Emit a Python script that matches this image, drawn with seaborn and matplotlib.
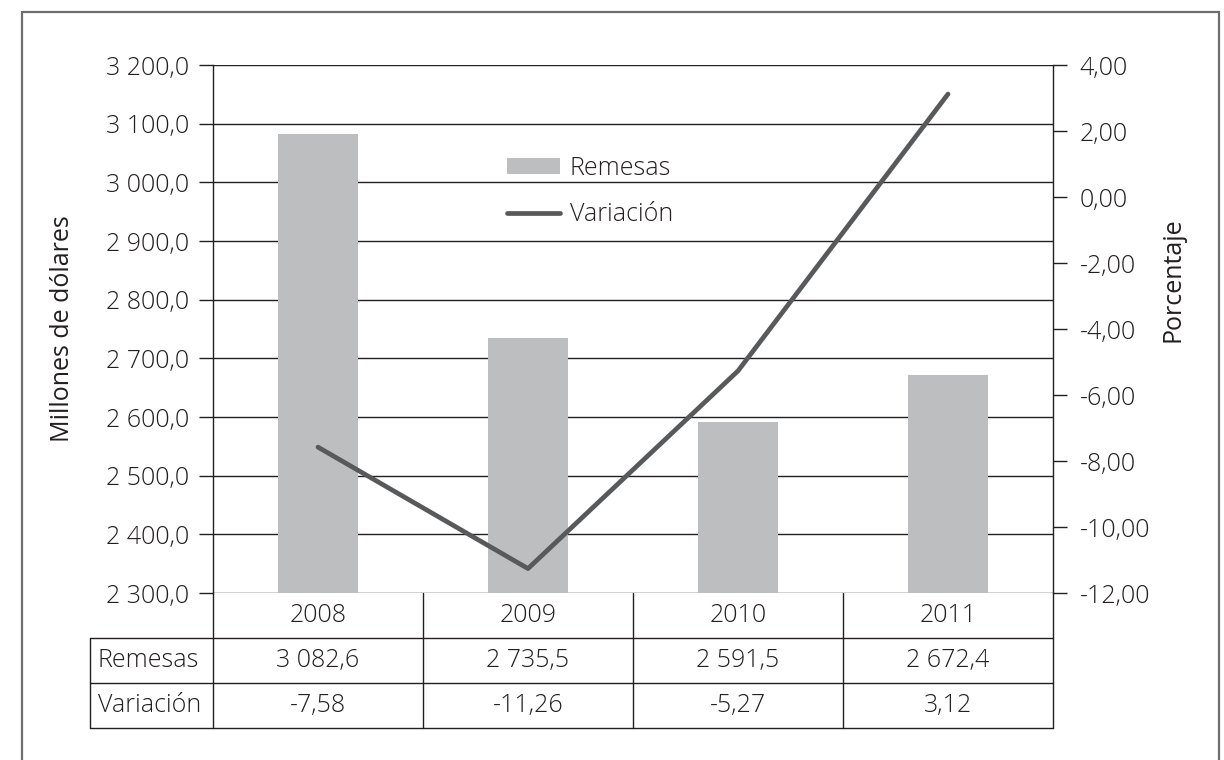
import matplotlib
matplotlib.use("Agg")
import matplotlib.pyplot as plt
from matplotlib.lines import Line2D
from matplotlib.patches import Patch, Rectangle
from matplotlib.ticker import FuncFormatter, MultipleLocator
import numpy as np
import seaborn as sns

# --------------------------------------------------------------------------- #
# Data
# --------------------------------------------------------------------------- #
years = ["2008", "2009", "2010", "2011"]
remesas = [3082.6, 2735.5, 2591.5, 2672.4]
variacion = [-7.58, -11.26, -5.27, 3.12]
row_labels = ["Remesas", "Variación"]

BAR = "#bcbec0"
LINE = "#58595b"
INK = "#231f20"
FRAME = "#6d6e71"
FS = 18


def fmt(v, d):
    return f"{v:,.{d}f}".replace(",", " ").replace(".", ",")


sns.set_theme(style="white")
plt.rcParams["font.family"] = ["Open Sans", "DejaVu Sans"]
plt.rcParams["font.weight"] = "light"
plt.rcParams["text.color"] = INK

W, H = 1224, 760
fig = plt.figure(figsize=(W / 100, H / 100), dpi=100)
fig.patch.set_facecolor("white")

# axes box in pixels: x 213..1053, y 65..593
L, R, T, B = 213, 1053, 65, 593
ax = fig.add_axes([L / W, 1 - B / H, (R - L) / W, (B - T) / H])

sns.barplot(x=years, y=remesas, ax=ax, color=BAR, saturation=1, width=0.385,
            edgecolor="none", linewidth=0, zorder=2)
ax.set_ylim(2300, 3200)
ax.set_xlim(-0.5, 3.5)
ax.yaxis.set_major_locator(MultipleLocator(100))
ax.yaxis.set_major_formatter(FuncFormatter(lambda v, _: fmt(v, 1)))
ax.set_axisbelow(True)
ax.grid(axis="y", color=INK, linewidth=1.0)
ax.grid(axis="x", visible=False)
ax.tick_params(axis="y", direction="out", length=10, width=1.0, color=INK,
               labelsize=FS, labelcolor=INK, pad=7, left=True)
ax.tick_params(axis="x", bottom=False, labelbottom=False)
ax.set_xlabel("")
ax.set_ylabel("Millones de dólares", fontsize=FS, color=INK)
ax.yaxis.set_label_coords((75 - L) / (R - L), 0.5)
for s in ["top", "right", "bottom"]:
    ax.spines[s].set_visible(False)
ax.spines["left"].set_color(INK)
ax.spines["left"].set_linewidth(1.0)

ax2 = ax.twinx()
sns.lineplot(x=np.arange(len(years)), y=variacion, ax=ax2, color=LINE,
             linewidth=3.4, zorder=3)
ax2.set_xlim(-0.5, 3.5)
ax2.set_ylim(-12, 4)
ax2.yaxis.set_major_locator(MultipleLocator(2))
ax2.yaxis.set_major_formatter(FuncFormatter(lambda v, _: fmt(v, 2)))
ax2.tick_params(axis="y", direction="out", length=10, width=1.0, color=INK,
                labelsize=FS, labelcolor=INK, pad=9, right=True)
ax2.set_ylabel("Porcentaje", fontsize=FS, color=INK)
ax2.yaxis.set_label_coords((1160 - L) / (R - L), (B - 280) / (B - T))
for s in ["top", "left", "bottom"]:
    ax2.spines[s].set_visible(False)
ax2.spines["right"].set_color(INK)
ax2.spines["right"].set_linewidth(1.0)
ax2.grid(False)

# legend
handles = [Patch(facecolor=BAR, edgecolor="none", label="Remesas"),
           Line2D([0], [0], color=LINE, linewidth=3.4, label="Variación")]
ax2.legend(handles=handles, loc="upper left", frameon=False, fontsize=FS,
           bbox_to_anchor=(507 / W, 1 - 156 / H), bbox_transform=fig.transFigure,
           borderpad=0, borderaxespad=0, handlelength=2.1, handleheight=0.6,
           handletextpad=0.4, labelspacing=0.85)

# data table under the axis
rh = 45 / (B - T)
lab_x0 = (90 - L) / (R - L)
n = len(years)
kw = dict(transform=ax.transAxes, clip_on=False, color=INK, linewidth=1.0)
for i in range(n + 1):
    ax.plot([i / n, i / n], [0, -3 * rh], **kw)
for k in (1, 2, 3):
    ax.plot([lab_x0, 1], [-k * rh, -k * rh], **kw)
ax.plot([lab_x0, lab_x0], [-rh, -3 * rh], **kw)

txt = dict(transform=ax.transAxes, fontsize=FS, color=INK, va="center")
for i, yr in enumerate(years):
    xc = (i + 0.5) / n
    ax.text(xc, -0.5 * rh, yr, ha="center", **txt)
    ax.text(xc, -1.5 * rh, fmt(remesas[i], 1), ha="center", **txt)
    ax.text(xc, -2.5 * rh, fmt(variacion[i], 2), ha="center", **txt)
for k, lab in enumerate(row_labels):
    ax.text((98 - L) / (R - L), -(1.5 + k) * rh, lab, ha="left", **txt)

# outer frame
fig.add_artist(Rectangle((22 / W, -0.02), (1219 - 22) / W, 1 - 12 / H + 0.02,
                         transform=fig.transFigure, fill=False,
                         edgecolor=FRAME, linewidth=1.6))

fig.savefig("out.png", dpi=100, facecolor="white")
